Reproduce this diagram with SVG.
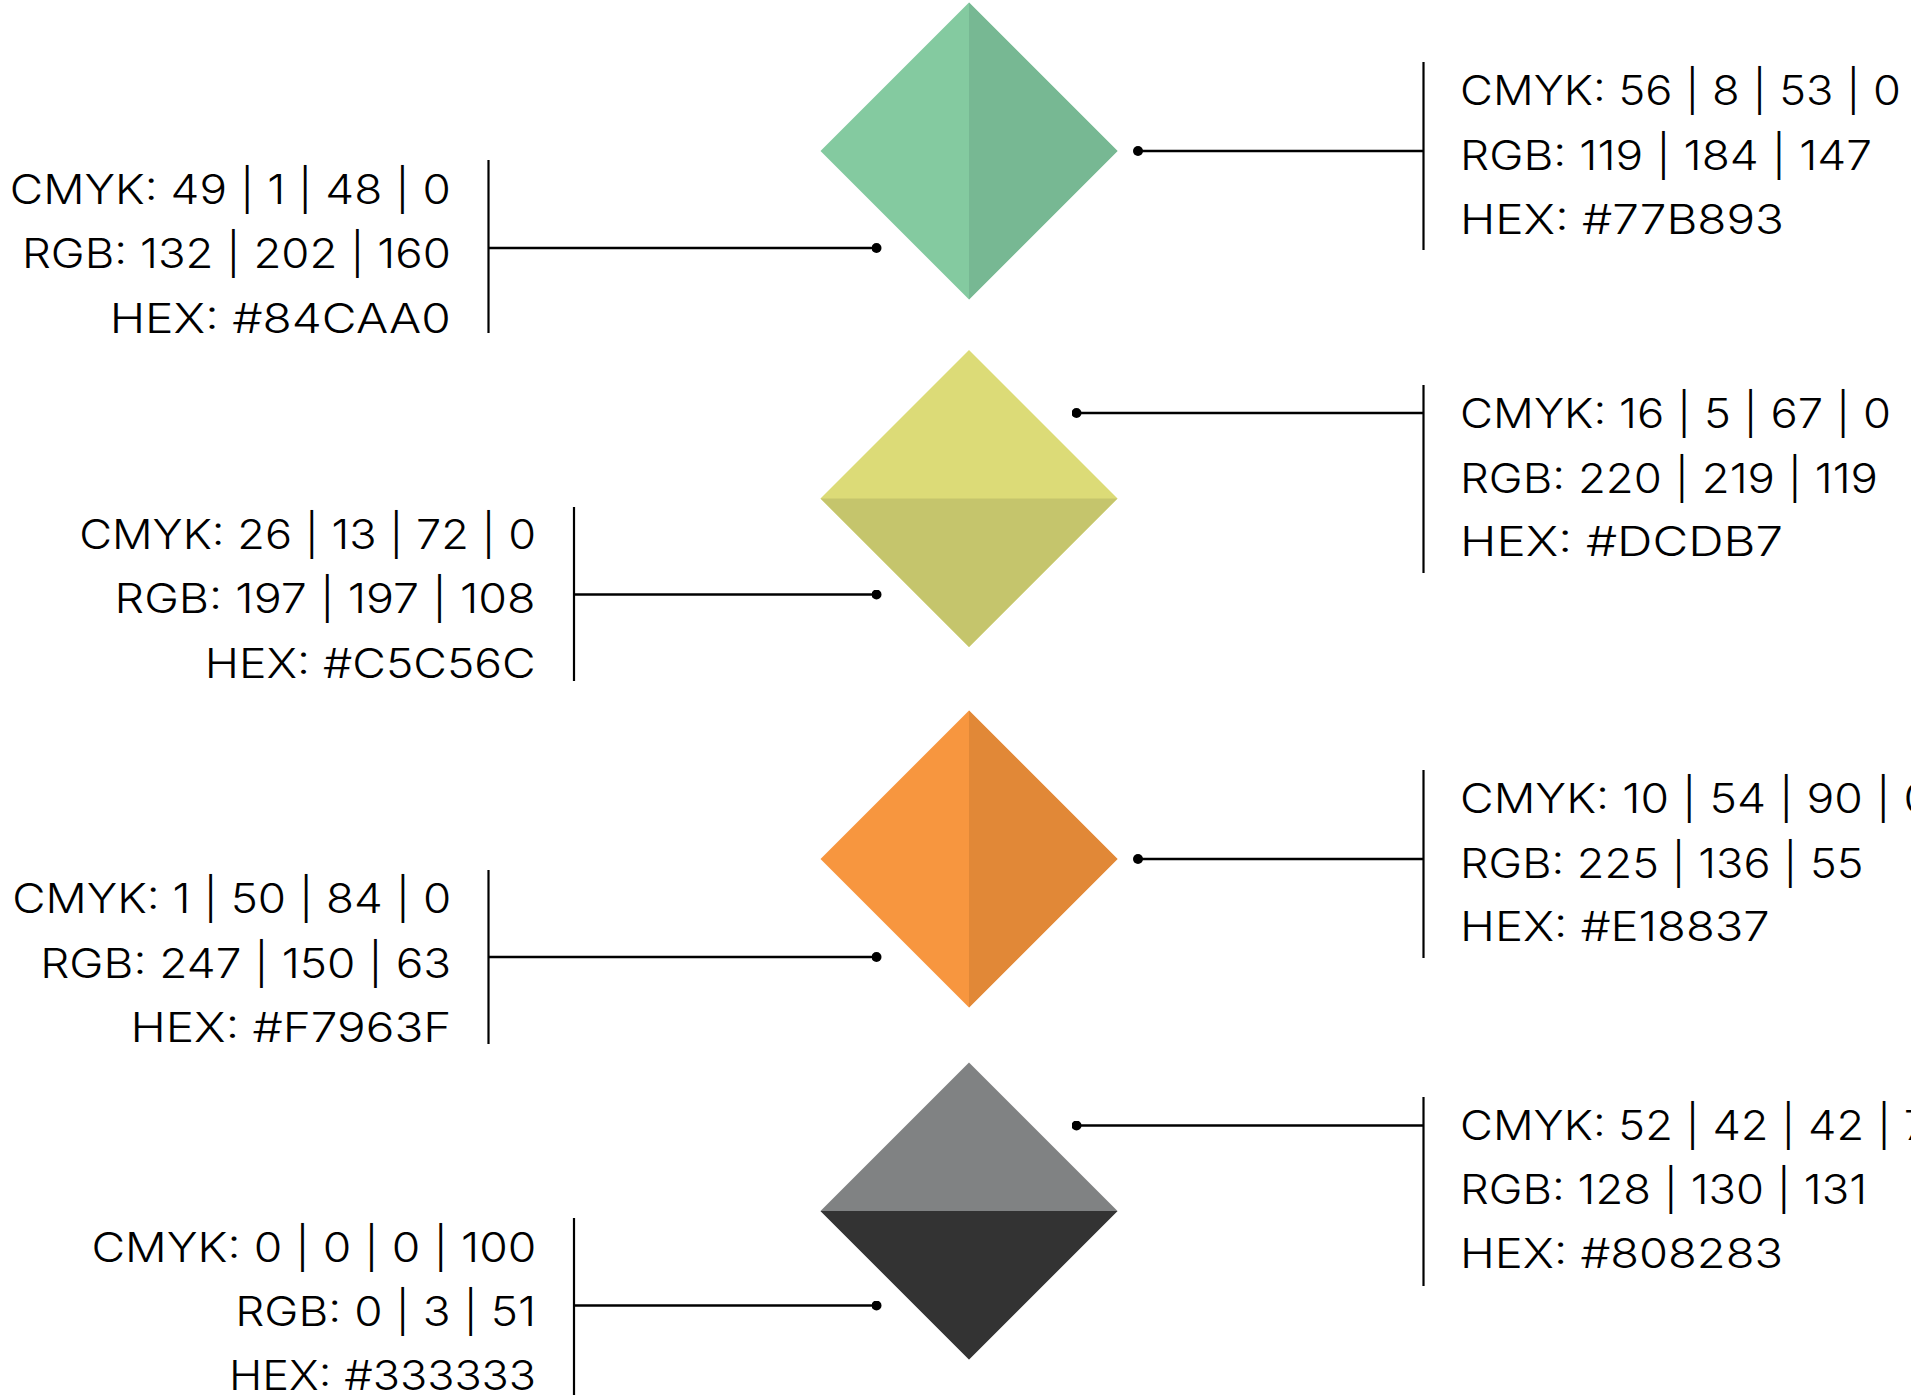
<svg xmlns="http://www.w3.org/2000/svg" width="1911" height="1395" viewBox="0 0 1911 1395">
<style>
.t{font-family:Inter,"Noto Sans","Liberation Sans",sans-serif;font-size:41px;font-weight:300;fill:#000}
.ln{stroke:#000;stroke-width:2.6;fill:none}
.bar{stroke:#000;stroke-width:2.2;fill:none}
</style>
<defs>
<marker id="dot" viewBox="0 0 10 10" refX="5" refY="5" markerWidth="10" markerHeight="10" markerUnits="userSpaceOnUse" orient="auto">
<circle cx="5" cy="5" r="5" fill="#000"/>
</marker>
</defs>
<rect width="1911" height="1395" fill="#fff"/>

<g id="node-green">
<polygon points="969,2.5 1117.5,151 969,299.5 820.5,151" fill="#84CAA0"/>
<polygon points="969,2.5 1117.5,151 969,299.5" fill="#77B893"/>
</g>
<g id="node-yellow">
<polygon points="969,350 1117.5,498.5 969,647 820.5,498.5" fill="#DCDB77"/>
<polygon points="820.5,498.5 1117.5,498.5 969,647" fill="#C5C56C"/>
</g>
<g id="node-orange">
<polygon points="969,710.5 1117.5,859 969,1007.5 820.5,859" fill="#F7963F"/>
<polygon points="969,710.5 1117.5,859 969,1007.5" fill="#E18837"/>
</g>
<g id="node-gray">
<polygon points="969,1062.5 1117.5,1211 969,1359.5 820.5,1211" fill="#808283"/>
<polygon points="820.5,1211 1117.5,1211 969,1359.5" fill="#333333"/>
</g>

<g id="connectors">
<line class="ln" x1="876.5" y1="248" x2="488.5" y2="248" marker-start="url(#dot)"/>
<line class="bar" x1="488.5" y1="160" x2="488.5" y2="333"/>
<line class="ln" x1="1138" y1="151" x2="1423.5" y2="151" marker-start="url(#dot)"/>
<line class="bar" x1="1423.5" y1="62" x2="1423.5" y2="250"/>

<line class="ln" x1="876.5" y1="594.5" x2="574" y2="594.5" marker-start="url(#dot)"/>
<line class="bar" x1="574" y1="507" x2="574" y2="681"/>
<line class="ln" x1="1076.5" y1="413" x2="1423.5" y2="413" marker-start="url(#dot)"/>
<line class="bar" x1="1423.5" y1="385" x2="1423.5" y2="573"/>

<line class="ln" x1="876.5" y1="957" x2="488.5" y2="957" marker-start="url(#dot)"/>
<line class="bar" x1="488.5" y1="870" x2="488.5" y2="1044"/>
<line class="ln" x1="1138" y1="859" x2="1423.5" y2="859" marker-start="url(#dot)"/>
<line class="bar" x1="1423.5" y1="770" x2="1423.5" y2="958"/>

<line class="ln" x1="876.5" y1="1305.5" x2="574" y2="1305.5" marker-start="url(#dot)"/>
<line class="bar" x1="574" y1="1218" x2="574" y2="1396"/>
<line class="ln" x1="1076.5" y1="1125.5" x2="1423.5" y2="1125.5" marker-start="url(#dot)"/>
<line class="bar" x1="1423.5" y1="1097" x2="1423.5" y2="1286"/>
</g>

<g id="label-green-left">
<text class="t" x="9.75" y="204" textLength="441" lengthAdjust="spacingAndGlyphs">CMYK: 49 | 1 | 48 | 0</text>
<text class="t" x="21.9" y="268" textLength="429" lengthAdjust="spacingAndGlyphs">RGB: 132 | 202 | 160</text>
<text class="t" x="109.7" y="333" textLength="341" lengthAdjust="spacingAndGlyphs">HEX: #84CAA0</text>
</g>
<g id="label-green-right">
<text class="t" x="1460" y="105" textLength="441" lengthAdjust="spacingAndGlyphs">CMYK: 56 | 8 | 53 | 0</text>
<text class="t" x="1460" y="170" textLength="412" lengthAdjust="spacingAndGlyphs">RGB: 119 | 184 | 147</text>
<text class="t" x="1460" y="234" textLength="324" lengthAdjust="spacingAndGlyphs">HEX: #77B893</text>
</g>
<g id="label-yellow-right">
<text class="t" x="1460" y="428" textLength="431" lengthAdjust="spacingAndGlyphs">CMYK: 16 | 5 | 67 | 0</text>
<text class="t" x="1460" y="493" textLength="418" lengthAdjust="spacingAndGlyphs">RGB: 220 | 219 | 119</text>
<text class="t" x="1460" y="556" textLength="323" lengthAdjust="spacingAndGlyphs">HEX: #DCDB7</text>
</g>
<g id="label-yellow-left">
<text class="t" x="79.2" y="549" textLength="457" lengthAdjust="spacingAndGlyphs">CMYK: 26 | 13 | 72 | 0</text>
<text class="t" x="114.6" y="613" textLength="421" lengthAdjust="spacingAndGlyphs">RGB: 197 | 197 | 108</text>
<text class="t" x="204.75" y="678" textLength="331" lengthAdjust="spacingAndGlyphs">HEX: #C5C56C</text>
</g>
<g id="label-orange-right">
<text class="t" x="1460" y="813" textLength="472" lengthAdjust="spacingAndGlyphs">CMYK: 10 | 54 | 90 | 0</text>
<text class="t" x="1460" y="878" textLength="403.5" lengthAdjust="spacingAndGlyphs">RGB: 225 | 136 | 55</text>
<text class="t" x="1460" y="941" textLength="309.6" lengthAdjust="spacingAndGlyphs">HEX: #E18837</text>
</g>
<g id="label-orange-left">
<text class="t" x="12.2" y="913" textLength="439" lengthAdjust="spacingAndGlyphs">CMYK: 1 | 50 | 84 | 0</text>
<text class="t" x="40.2" y="978" textLength="411" lengthAdjust="spacingAndGlyphs">RGB: 247 | 150 | 63</text>
<text class="t" x="130.4" y="1042" textLength="321" lengthAdjust="spacingAndGlyphs">HEX: #F7963F</text>
</g>
<g id="label-gray-right">
<text class="t" x="1460" y="1140" textLength="469" lengthAdjust="spacingAndGlyphs">CMYK: 52 | 42 | 42 | 7</text>
<text class="t" x="1460" y="1204" textLength="407" lengthAdjust="spacingAndGlyphs">RGB: 128 | 130 | 131</text>
<text class="t" x="1460" y="1268" textLength="323" lengthAdjust="spacingAndGlyphs">HEX: #808283</text>
</g>
<g id="label-gray-left">
<text class="t" x="91.4" y="1262" textLength="445" lengthAdjust="spacingAndGlyphs">CMYK: 0 | 0 | 0 | 100</text>
<text class="t" x="235.2" y="1326" textLength="301" lengthAdjust="spacingAndGlyphs">RGB: 0 | 3 | 51</text>
<text class="t" x="229.1" y="1390" textLength="307" lengthAdjust="spacingAndGlyphs">HEX: #333333</text>
</g>
</svg>
